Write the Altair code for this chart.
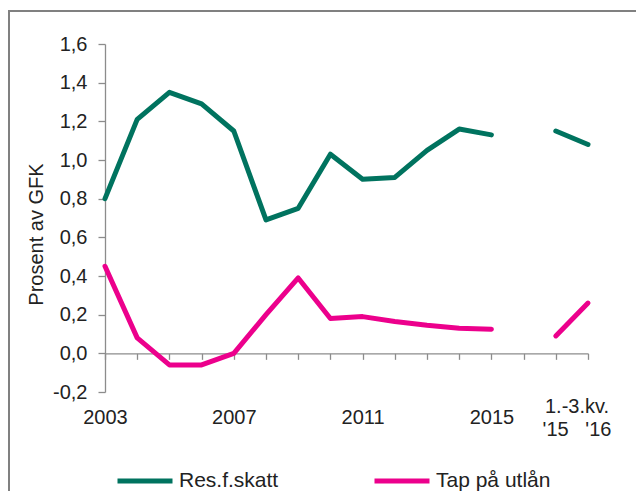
import altair as alt
import pandas as pd

# ---- data ----
year_cats = ["2003", "2004", "2005", "2006", "2007", "2008", "2009",
             "2010", "2011", "2012", "2013", "2014", "2015"]
gap_cat = ["gap"]
quarter_cats = ["'15", "'16"]
categories = year_cats + gap_cat + quarter_cats

res_years = [0.80, 1.21, 1.35, 1.29, 1.15, 0.69, 0.75, 1.03, 0.90, 0.91, 1.05, 1.16, 1.13]
tap_years = [0.45, 0.08, -0.06, -0.06, 0.00, 0.20, 0.39, 0.18, 0.19, 0.165, 0.145, 0.13, 0.125]
res_quarters = [1.15, 1.08]
tap_quarters = [0.09, 0.26]

series_names = ["Res.f.skatt", "Tap på utlån"]
series_colors = ["#00735F", "#EC008C"]

y_ticks = [-0.2, 0.0, 0.2, 0.4, 0.6, 0.8, 1.0, 1.2, 1.4, 1.6]
shown_year_labels = ["2003", "2007", "2011", "2015"]
quarter_heading = "1.-3.kv.\n'15\u00a0\u00a0\u00a0'16"
y_title = "Prosent av GFK"

# ---- build long table ----
rows = []
for name, yv, qv in [(series_names[0], res_years, res_quarters),
                     (series_names[1], tap_years, tap_quarters)]:
    for c, v in zip(year_cats, yv):
        rows.append({"cat": c, "value": v, "series": name, "seg": name + "_y"})
    for c, v in zip(quarter_cats, qv):
        rows.append({"cat": c, "value": v, "series": name, "seg": name + "_q"})
df = pd.DataFrame(rows)

W, H = 483, 348
y_min, y_max = y_ticks[0], y_ticks[-1]
zero_offset = -H * (0 - y_min) / (y_max - y_min)
zero_y = H + zero_offset
label_baseline_y = 379  # view pixel row for the year-label baseline

FONT = "Liberation Sans"
TXT = "#222222"
AXC = "#8c8c8c"

x_scale = alt.Scale(type="point", domain=categories, padding=0)
y_scale = alt.Scale(domain=[y_min, y_max], nice=False, zero=False)

label_list = "[" + ",".join("'" + s + "'" for s in shown_year_labels) + "]"

x_axis = alt.Axis(
    title=None, orient="bottom", offset=zero_offset,
    domainColor=AXC, domainWidth=1.3, tickColor=AXC, tickWidth=1.3, tickSize=6,
    labelExpr="indexof(" + label_list + ", datum.value) >= 0 ? datum.value : ''",
    labelPadding=label_baseline_y - zero_y - 6, labelBaseline="alphabetic", labelAngle=0,
    labelFont=FONT, labelFontSize=20, labelColor=TXT,
    labelOverlap=False, labelFlush=False, grid=False,
)
y_axis = alt.Axis(
    values=y_ticks,
    labelExpr="(datum.value < -0.001 ? '-' : '') + replace(format(abs(datum.value), '.1f'), '.', ',')",
    domainColor=AXC, domainWidth=1.3, tickColor=AXC, tickWidth=1.3, tickSize=7,
    labelPadding=11, labelFont=FONT, labelFontSize=20, labelColor=TXT, grid=False,
    title=y_title, titleFont=FONT, titleFontSize=20, titleFontWeight="normal",
    titleColor=TXT, titleAngle=-90, titleX=-63, titleY=190,
    titleAlign="center", titleBaseline="alphabetic",
)

lines = alt.Chart(df).mark_line(strokeWidth=5, strokeJoin="round", strokeCap="round").encode(
    x=alt.X("cat:N", scale=x_scale, axis=x_axis),
    y=alt.Y("value:Q", scale=y_scale, axis=y_axis),
    color=alt.Color(
        "series:N",
        scale=alt.Scale(domain=series_names, range=series_colors),
        legend=alt.Legend(
            orient="none", legendX=10, legendY=407, direction="horizontal",
            title=None, symbolType="stroke", symbolSize=3025, symbolStrokeWidth=5,
            labelFont=FONT, labelFontSize=21, labelColor=TXT, labelOffset=4,
            columnPadding=85, labelLimit=0,
        ),
    ),
    detail="seg:N",
)

heading_df = pd.DataFrame({"cat": [quarter_cats[-1]], "label": [quarter_heading]})
heading = alt.Chart(heading_df).mark_text(
    lineBreak="\n", font=FONT, fontSize=20, color=TXT, align="center",
    baseline="alphabetic", dx=-11, lineHeight=23,
).encode(
    x=alt.X("cat:N", scale=x_scale, axis=None),
    y=alt.value(369),
    text="label:N",
)

frame_df = pd.DataFrame({"k": [0]})
frame_top = alt.Chart(frame_df).mark_rule(color="#808080", strokeWidth=2).encode(
    x=alt.value(-97), x2=alt.value(531), y=alt.value(-33)
)
frame_left = alt.Chart(frame_df).mark_rule(color="#808080", strokeWidth=2).encode(
    x=alt.value(-96), y=alt.value(-34), y2=alt.value(460)
)

chart = alt.layer(frame_top, frame_left, lines, heading).resolve_axis(
    x="independent"
).properties(
    width=W, height=H,
    autosize=alt.AutoSizeParams(type="none"),
    padding={"left": 97, "top": 36, "right": 48, "bottom": 99},
    background="white",
).configure_view(strokeWidth=0)

chart.save("out.html", embed_options={"renderer": "svg", "actions": False})
